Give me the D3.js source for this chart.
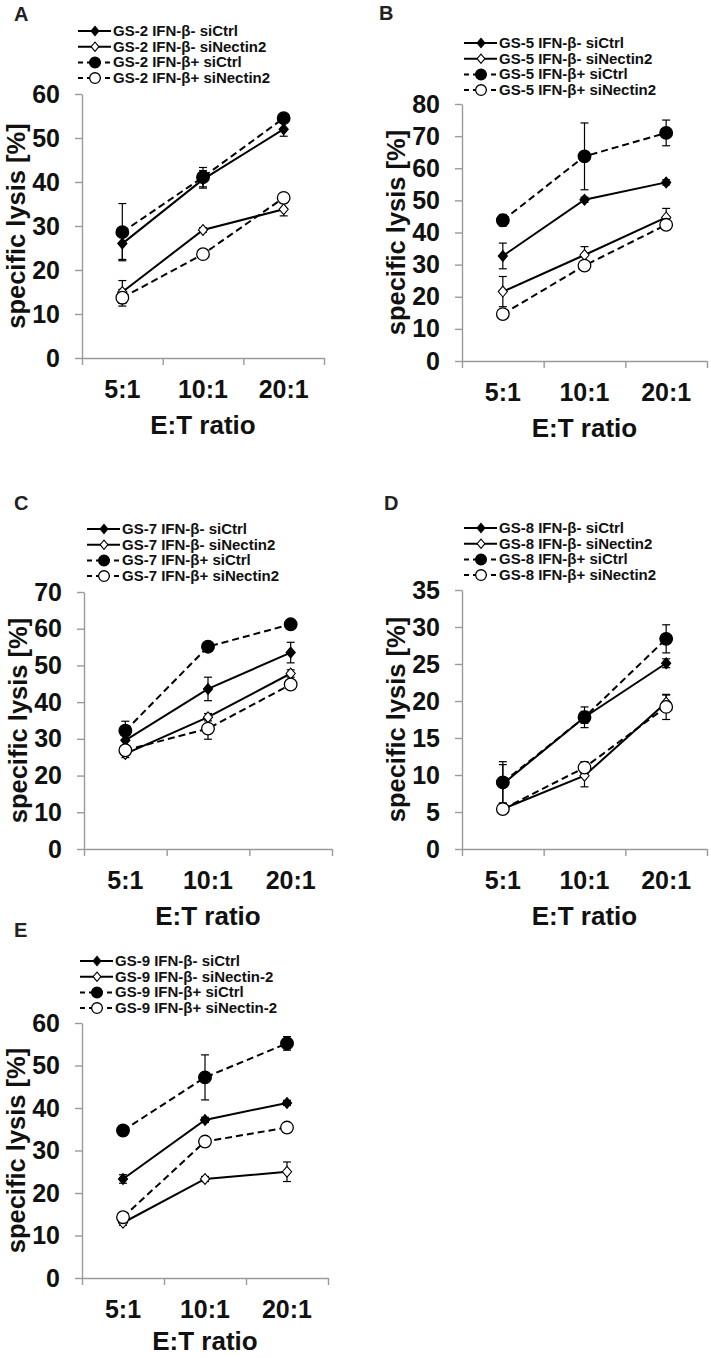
<!DOCTYPE html>
<html><head><meta charset="utf-8">
<script src="https://cdn.jsdelivr.net/npm/d3@7"></script>
<style>body{margin:0;background:#fff}svg{display:block}</style>
</head><body>
<svg id="chart" width="711" height="1358"></svg>
<script>
// ---------- DATA ----------
const categories = ["5:1", "10:1", "20:1"];
const panelLetters = ["A", "B", "C", "D", "E"];
const cellLines = ["GS-2", "GS-5", "GS-7", "GS-8", "GS-9"];
const conditionsStd = ["IFN-β- siCtrl", "IFN-β- siNectin2", "IFN-β+ siCtrl", "IFN-β+ siNectin2"];
const conditionsE = ["IFN-β- siCtrl", "IFN-β- siNectin-2", "IFN-β+ siCtrl", "IFN-β+ siNectin-2"];

const yTicksA = [0, 10, 20, 30, 40, 50, 60];
const yTicksB = [0, 10, 20, 30, 40, 50, 60, 70, 80];
const yTicksC = [0, 10, 20, 30, 40, 50, 60, 70];
const yTicksD = [0, 5, 10, 15, 20, 25, 30, 35];
const yTicksE = [0, 10, 20, 30, 40, 50, 60];

// series order: IFN- siCtrl, IFN- siNectin2, IFN+ siCtrl, IFN+ siNectin2
const aCtrlNeg = [26.0, 40.6, 52.0], aCtrlNegErr = [3.6, 2.0, 1.6];
const aNecNeg  = [15.0, 29.1, 33.8], aNecNegErr  = [2.6, 0.5, 1.5];
const aCtrlPos = [28.6, 41.1, 54.5], aCtrlPosErr = [6.5, 2.2, 0.8];
const aNecPos  = [13.7, 23.6, 36.4], aNecPosErr  = [1.9, 0.8, 1.0];

const bCtrlNeg = [32.7, 50.2, 55.6], bCtrlNegErr = [4.0, 0.8, 0.8];
const bNecNeg  = [21.6, 33.0, 44.7], bNecNegErr  = [4.7, 2.6, 2.8];
const bCtrlPos = [43.8, 63.7, 71.0], bCtrlPosErr = [1.8, 10.4, 4.0];
const bNecPos  = [14.6, 29.7, 42.4], bNecPosErr  = [0.8, 0.8, 0.8];

const cCtrlNeg = [29.6, 43.6, 53.5], cCtrlNegErr = [1.5, 3.2, 2.8];
const cNecNeg  = [25.9, 35.9, 47.8], cNecNegErr  = [1.0, 1.0, 1.0];
const cCtrlPos = [32.2, 55.1, 61.2], cCtrlPosErr = [2.6, 1.0, 0.8];
const cNecPos  = [26.9, 32.8, 44.8], cNecPosErr  = [1.0, 2.9, 0.8];

const dCtrlNeg = [8.8, 17.8, 25.1], dCtrlNegErr = [2.6, 0.8, 0.6];
const dNecNeg  = [5.4, 9.9, 19.8],  dNecNegErr  = [0.6, 1.5, 1.0];
const dCtrlPos = [9.0, 17.8, 28.4], dCtrlPosErr = [2.8, 1.4, 1.9];
const dNecPos  = [5.4, 11.0, 19.2], dNecPosErr  = [0.5, 0.8, 1.7];

const eCtrlNeg = [23.3, 37.2, 41.2], eCtrlNegErr = [1.0, 0.6, 0.6];
const eNecNeg  = [13.0, 23.3, 25.0], eNecNegErr  = [0.6, 0.6, 2.3];
const eCtrlPos = [34.7, 47.2, 55.2], eCtrlPosErr = [1.0, 5.3, 1.6];
const eNecPos  = [14.3, 32.1, 35.4], eNecPosErr  = [0.6, 0.6, 0.6];

const yTitle = "specific lysis [%]";
const xTitle = "E:T ratio";

// ---------- LAYOUT ----------
const layouts = [
  {ax: 82,  top: 94,  bottom: 358, right: 324, legX: 78,  legY: 31,  labX: 14,  labY: 21,  xtOff: 76},
  {ax: 462, top: 104, bottom: 361, right: 707, legX: 464, legY: 43,  labX: 379, labY: 20,  xtOff: 76},
  {ax: 84,  top: 592, bottom: 849, right: 332, legX: 87,  legY: 529, labX: 14,  labY: 510, xtOff: 76},
  {ax: 462, top: 590, bottom: 849, right: 707, legX: 464, legY: 528, labX: 384, labY: 510, xtOff: 76},
  {ax: 82,  top: 1023, bottom: 1278, right: 328, legX: 80, legY: 961, labX: 14, labY: 937, xtOff: 72}
];

const panelData = [
  {ticks: yTicksA, conds: conditionsStd, series: [[aCtrlNeg,aCtrlNegErr],[aNecNeg,aNecNegErr],[aCtrlPos,aCtrlPosErr],[aNecPos,aNecPosErr]]},
  {ticks: yTicksB, conds: conditionsStd, series: [[bCtrlNeg,bCtrlNegErr],[bNecNeg,bNecNegErr],[bCtrlPos,bCtrlPosErr],[bNecPos,bNecPosErr]]},
  {ticks: yTicksC, conds: conditionsStd, series: [[cCtrlNeg,cCtrlNegErr],[cNecNeg,cNecNegErr],[cCtrlPos,cCtrlPosErr],[cNecPos,cNecPosErr]]},
  {ticks: yTicksD, conds: conditionsStd, series: [[dCtrlNeg,dCtrlNegErr],[dNecNeg,dNecNegErr],[dCtrlPos,dCtrlPosErr],[dNecPos,dNecPosErr]]},
  {ticks: yTicksE, conds: conditionsE,   series: [[eCtrlNeg,eCtrlNegErr],[eNecNeg,eNecNegErr],[eCtrlPos,eCtrlPosErr],[eNecPos,eNecPosErr]]}
];

// style per series
const styles = [
  {dash: null,  shape: "diamond", fill: "#000"},
  {dash: null,  shape: "diamond", fill: "#fff"},
  {dash: "7,4", shape: "circle",  fill: "#000"},
  {dash: "7,4", shape: "circle",  fill: "#fff"}
];

const FONT = "'Liberation Sans', Arial, Helvetica, sans-serif";
const svg = d3.select("#chart");

function drawMarker(g, shape, fill, cx, cy, scale) {
  const s = scale || 1;
  if (shape === "circle") {
    g.append("circle").attr("cx", cx).attr("cy", cy).attr("r", 6.3 * s)
      .attr("fill", fill).attr("stroke", "#000").attr("stroke-width", 1.3);
  } else {
    const r = 5.4 * s;
    g.append("path")
      .attr("d", `M${cx},${cy - r}L${cx + r * 0.85},${cy}L${cx},${cy + r}L${cx - r * 0.85},${cy}Z`)
      .attr("fill", fill).attr("stroke", "#000").attr("stroke-width", 1.1);
  }
}

layouts.forEach((L, pi) => {
  const P = panelData[pi];
  const g = svg.append("g");
  const yMax = P.ticks[P.ticks.length - 1];
  const y = d3.scaleLinear().domain([0, yMax]).range([L.bottom, L.top]);
  const x = d3.scaleBand().domain(categories).range([L.ax, L.right]).padding(0);
  const xEdge = d3.scaleLinear().domain([0, categories.length]).range([L.ax, L.right]);

  // panel letter
  g.append("text").attr("x", L.labX).attr("y", L.labY).text(panelLetters[pi])
    .attr("font-family", FONT).attr("font-weight", "bold").attr("font-size", 20).attr("fill", "#222");

  // y axis
  const yAxis = d3.axisLeft(y).tickValues(P.ticks).tickSize(7).tickPadding(15).tickSizeOuter(0);
  const yg = g.append("g").attr("transform", `translate(${L.ax},0)`).call(yAxis);
  yg.select(".domain").attr("stroke", "#9a9a9a").attr("stroke-width", 1.4);
  yg.selectAll(".tick line").attr("stroke", "#9a9a9a").attr("stroke-width", 1.4);
  yg.selectAll(".tick text").attr("font-family", FONT).attr("font-weight", "bold")
    .attr("font-size", 25).attr("fill", "#111");

  // x axis with ticks at band edges
  const xAxis = d3.axisBottom(xEdge).tickValues(d3.range(categories.length + 1)).tickSize(7).tickFormat("").tickSizeOuter(0);
  const xg = g.append("g").attr("transform", `translate(0,${L.bottom})`).call(xAxis);
  xg.select(".domain").attr("stroke", "#9a9a9a").attr("stroke-width", 1.4);
  xg.selectAll(".tick line").attr("stroke", "#9a9a9a").attr("stroke-width", 1.4);

  // category labels
  g.selectAll(".cat").data(categories).enter().append("text")
    .attr("x", d => x(d) + x.bandwidth() / 2).attr("y", L.bottom + 40)
    .attr("text-anchor", "middle").text(d => d)
    .attr("font-family", FONT).attr("font-weight", "bold").attr("font-size", 25).attr("fill", "#111");

  // x title
  g.append("text").attr("x", (L.ax + L.right) / 2).attr("y", L.bottom + L.xtOff)
    .attr("text-anchor", "middle").text(xTitle)
    .attr("font-family", FONT).attr("font-weight", "bold").attr("font-size", 26).attr("fill", "#111");

  // y title
  const ytx = L.ax - 57, yty = (L.top + L.bottom) / 2;
  g.append("text").attr("transform", `translate(${ytx},${yty}) rotate(-90)`)
    .attr("text-anchor", "middle").text(yTitle)
    .attr("font-family", FONT).attr("font-weight", "bold").attr("font-size", 25.5).attr("fill", "#111");

  // series
  const line = d3.line().x((d, i) => x(categories[i]) + x.bandwidth() / 2).y(d => y(d));
  P.series.forEach((s, si) => {
    const st = styles[si];
    g.append("path").datum(s[0]).attr("d", line).attr("fill", "none")
      .attr("stroke", "#000").attr("stroke-width", 2)
      .attr("stroke-dasharray", st.dash);
  });
  P.series.forEach((s, si) => {
    const vals = s[0], errs = s[1];
    vals.forEach((v, i) => {
      const cx = x(categories[i]) + x.bandwidth() / 2;
      const y1 = y(v + errs[i]), y2 = y(v - errs[i]);
      g.append("line").attr("x1", cx).attr("x2", cx).attr("y1", y1).attr("y2", y2)
        .attr("stroke", "#000").attr("stroke-width", 1.2);
      [y1, y2].forEach(yy => g.append("line").attr("x1", cx - 4).attr("x2", cx + 4)
        .attr("y1", yy).attr("y2", yy).attr("stroke", "#000").attr("stroke-width", 1.2));
    });
  });
  P.series.forEach((s, si) => {
    const st = styles[si];
    s[0].forEach((v, i) => {
      drawMarker(g, st.shape, st.fill, x(categories[i]) + x.bandwidth() / 2, y(v));
    });
  });

  // legend
  P.conds.forEach((c, ci) => {
    const st = styles[ci];
    const ly = L.legY + ci * 15.7;
    const lg = g.append("g");
    lg.append("line").attr("x1", L.legX).attr("x2", L.legX + 33).attr("y1", ly).attr("y2", ly)
      .attr("stroke", "#000").attr("stroke-width", 2).attr("stroke-dasharray", st.dash ? "5,4" : null);
    drawMarker(lg, st.shape, st.fill, L.legX + 17, ly, 0.85);
    lg.append("text").attr("x", L.legX + 35).attr("y", ly + 5)
      .text(cellLines[pi] + " " + c)
      .attr("font-family", FONT).attr("font-weight", "bold").attr("font-size", 15).attr("fill", "#111");
  });
});
</script>
</body></html>
